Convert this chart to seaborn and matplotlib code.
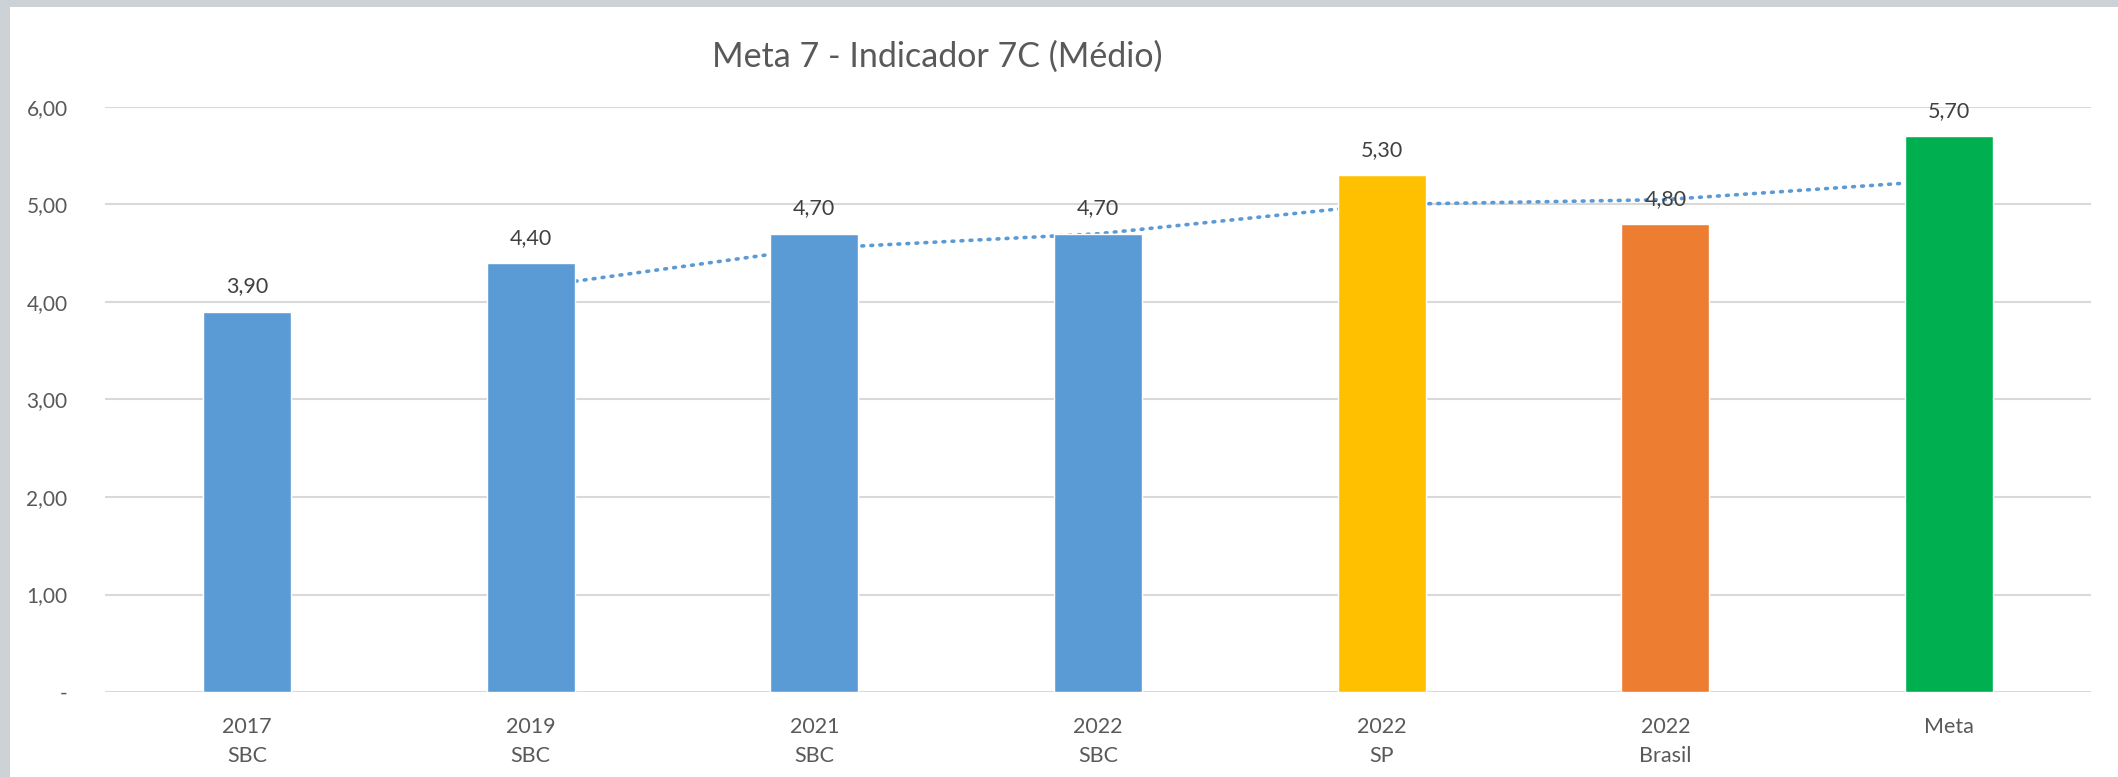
import numpy as np
import pandas as pd
import matplotlib
matplotlib.use("Agg")
import matplotlib.pyplot as plt
from matplotlib.patches import Rectangle
import seaborn as sns

# dados do gráfico
anos = ["2017", "2019", "2021", "2022", "2022", "2022", "Meta"]
locais = ["SBC", "SBC", "SBC", "SBC", "SP", "Brasil", ""]
valores = [3.90, 4.40, 4.70, 4.70, 5.30, 4.80, 5.70]
cores = ["#5B9BD5", "#5B9BD5", "#5B9BD5", "#5B9BD5", "#FFC000", "#ED7D31", "#00B050"]
titulo = "Meta 7 - Indicador 7C (Médio)"

rotulos = [f"{a}\n{l}" if l else a for a, l in zip(anos, locais)]
df = pd.DataFrame({"cat": rotulos, "valor": valores})
# linha de tendência: média móvel de 2 períodos (como no Excel)
df["tend"] = df["valor"].rolling(2).mean()

sns.set_style("white")
plt.rcParams["font.family"] = ["Lato", "DejaVu Sans"]

fig = plt.figure(figsize=(21.18, 7.77), dpi=100, facecolor="#CDD2D6")
fig.patches.append(Rectangle((10 / 2118, 0), 1, 1 - 7 / 777,
                             transform=fig.transFigure, facecolor="white",
                             edgecolor="none", zorder=-10))
ax = fig.add_axes([105 / 2118, 1 - 692 / 777, (2091 - 105) / 2118, (692 - 107) / 777])
ax.set_facecolor("none")

sns.barplot(data=df, x="cat", y="valor", hue="cat", palette=cores, order=rotulos,
            hue_order=rotulos, width=0.31, legend=False, saturation=1, ax=ax, zorder=3)

pos = np.arange(len(df))
sns.lineplot(x=pos[1:], y=df["tend"].values[1:], ax=ax, color="#5B9BD5",
             linewidth=2.6, linestyle=(0, (0.5, 2.0)), dash_capstyle="round", zorder=2)

for cont in ax.containers:
    ax.bar_label(cont, labels=[f"{v:.2f}".replace(".", ",") for v in cont.datavalues],
                 padding=11, fontsize=15.5, color="#404040")

ax.set_ylim(0, 6)
ax.set_xlim(-0.5, len(df) - 0.5)
ax.set_yticks(np.arange(0, 7, 1))
ax.set_yticklabels(["-"] + [f"{v:.2f}".replace(".", ",") for v in np.arange(1, 7, 1)])
ax.yaxis.grid(True, color="#D9D9D9", linewidth=1.5, zorder=0)
ax.set_axisbelow(True)
ax.tick_params(axis="y", length=0, pad=27, labelsize=15, labelcolor="#595959")
ax.tick_params(axis="x", length=0, pad=18, labelsize=15.5, labelcolor="#595959")
for t in ax.get_xticklabels():
    t.set_linespacing(1.55)
for s in ax.spines.values():
    s.set_visible(False)
ax.set_xlabel("")
ax.set_ylabel("")

fig.text(937 / 2118, 1 - 57 / 777, titulo, ha="center", va="center",
         fontsize=24.5, color="#595959")

fig.savefig("out.png", dpi=100, facecolor=fig.get_facecolor())
